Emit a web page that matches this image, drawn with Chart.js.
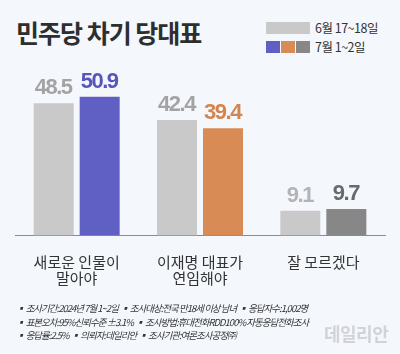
<!DOCTYPE html>
<html>
<head>
<meta charset="utf-8">
<script src="https://cdn.jsdelivr.net/npm/chart.js@4"></script>
<style>
  body { margin: 0; background: #f4f7fc; }
  #wrap { position: relative; width: 400px; height: 354px; overflow: hidden; font-family: "Noto Sans CJK KR", "Noto Sans", sans-serif; }
  #title { position: absolute; left: 16px; top: 14px; font-size: 25px; font-weight: 700; color: #2e2e2e; letter-spacing: -1px; }
  .leg { position: absolute; font-size: 12.5px; color: #333; letter-spacing: -0.5px; }
  .sw { position: absolute; }
  .note { position: absolute; left: 16px; font-size: 9.5px; color: #333; letter-spacing: -1px; white-space: nowrap; font-style: oblique; }
  #mark { position: absolute; left: 324px; top: 320px; font-size: 18px; font-weight: 700; color: #d3d3d7; letter-spacing: -0.5px; }
  canvas { position: absolute; left: 0; top: 0; }
</style>
</head>
<body>
<div id="wrap">
  <div id="title">민주당 차기 당대표</div>
  <div class="sw" style="left:266px;top:22px;width:44px;height:12px;background:#c9c9c9"></div>
  <div class="leg" style="left:315px;top:18px">6월 17~18일</div>
  <div class="sw" style="left:266px;top:41px;width:14px;height:12px;background:#6060c4"></div>
  <div class="sw" style="left:281px;top:41px;width:14px;height:12px;background:#d98b56"></div>
  <div class="sw" style="left:296px;top:41px;width:14px;height:12px;background:#878787"></div>
  <div class="leg" style="left:315px;top:37px">7월 1~2일</div>
  <canvas id="myChart" width="400" height="354"></canvas>
  <div class="note" style="top:301px">▪ 조사기간:2024년 7월 1~2일 &nbsp;▪ 조사대상:전국 만18세 이상 남녀 &nbsp;▪ 응답자수:1,002명</div>
  <div class="note" style="top:315px">▪ 표본오차:95%신뢰수준 ±3.1% &nbsp;▪ 조사방법:휴대전화RDD100% 자동응답전화조사</div>
  <div class="note" style="top:328px">▪ 응답률:2.5% &nbsp;▪ 의뢰자:데일리안 &nbsp;▪ 조사기관:여론조사공정㈜</div>
  <div id="mark">데일리안</div>
</div>
<script>
const categories = [['새로운 인물이', '말아야'], ['이재명 대표가', '연임해야'], ['잘 모르겠다']];
const juneValues = [48.5, 42.4, 9.1];
const julyValues = [50.9, 39.4, 9.7];
const juneColor = '#c9c9c9';
const julyColors = ['#6060c4', '#d98b56', '#878787'];
const juneLabelColors = ['#a3a3a3', '#a3a3a3', '#b4b4b4'];
const julyLabelColors = ['#5656bc', '#d4844c', '#6a6a6a'];

const valueLabels = {
    id: 'valueLabels',
    afterDatasetsDraw(chart){
        const ctx = chart.ctx;
        ctx.save();
        ctx.font = 'bold 22px "Liberation Sans", Arial, sans-serif';
        ctx.letterSpacing = '-1.5px';
        ctx.textAlign = 'center';
        ctx.textBaseline = 'bottom';
        chart.data.datasets.forEach((ds, i) => {
            const meta = chart.getDatasetMeta(i);
            meta.data.forEach((bar, j) => {
                ctx.fillStyle = ds.labelColors[j];
                ctx.fillText(ds.data[j].toFixed(1), bar.x - 0.5, bar.y - 4);
            });
        });
        ctx.restore();
    }
};

const ctx = document.querySelector('#myChart').getContext('2d');
const myChart = new Chart(ctx, {
    type: 'bar',
    data: {
        labels: categories,
        datasets: [
            { label: '6월 17~18일', data: juneValues, backgroundColor: juneColor, labelColors: juneLabelColors },
            { label: '7월 1~2일', data: julyValues, backgroundColor: julyColors, labelColors: julyLabelColors }
        ]
    },
    options: {
        responsive: false,
        animation: false,
        categoryPercentage: 0.746,
        barPercentage: 0.87,
        layout: {
            padding: { left: 15, right: 15, top: 72, bottom: 57 }
        },
        plugins: {
            legend: { display: false },
            tooltip: { enabled: false }
        },
        scales: {
            y: {
                display: false,
                min: 0,
                max: 60
            },
            x: {
                grid: { display: false },
                border: { color: '#8c8c8c', width: 1 },
                ticks: {
                    color: '#333',
                    padding: 11,
                    font: { family: '"Noto Sans CJK KR", sans-serif', size: 15, lineHeight: 1.05 },
                    maxRotation: 0
                }
            }
        }
    },
    plugins: [valueLabels]
});
</script>
</body>
</html>
